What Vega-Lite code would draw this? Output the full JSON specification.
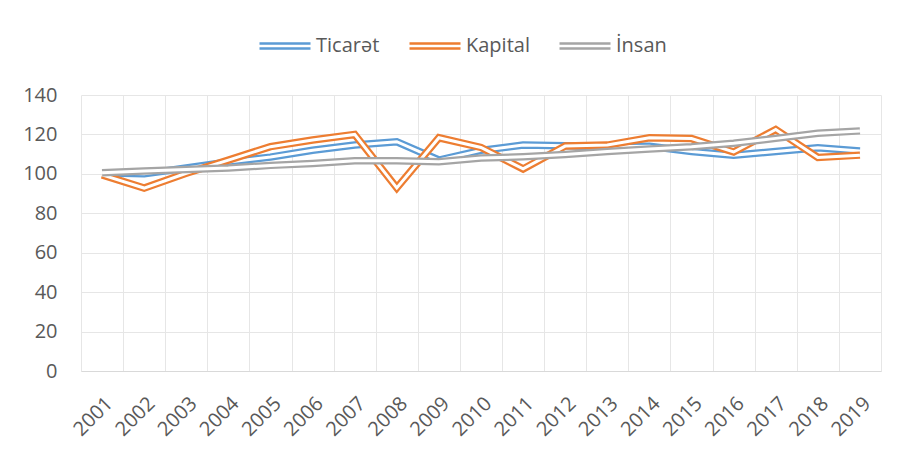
{
  "$schema": "https://vega.github.io/schema/vega-lite/v6.json",
  "width": 800,
  "height": 276,
  "autosize": {"type": "none"},
  "padding": {"left": 81, "top": 95, "right": 31, "bottom": 84},
  "background": "white",
  "config": {
    "font": "Open Sans",
    "view": {"stroke": null},
    "axis": {"labelColor": "#595959", "labelFontSize": 20, "gridColor": "#e6e6e6", "gridWidth": 1}
  },
  "data": {
    "values": [
      {"year": "2001", "series": "Ticarət", "value": 100.5},
      {"year": "2002", "series": "Ticarət", "value": 100},
      {"year": "2003", "series": "Ticarət", "value": 103},
      {"year": "2004", "series": "Ticarət", "value": 106},
      {"year": "2005", "series": "Ticarət", "value": 108.5},
      {"year": "2006", "series": "Ticarət", "value": 112},
      {"year": "2007", "series": "Ticarət", "value": 114.6},
      {"year": "2008", "series": "Ticarət", "value": 116.3},
      {"year": "2009", "series": "Ticarət", "value": 107},
      {"year": "2010", "series": "Ticarət", "value": 111.9},
      {"year": "2011", "series": "Ticarət", "value": 114.6},
      {"year": "2012", "series": "Ticarət", "value": 114.2},
      {"year": "2013", "series": "Ticarət", "value": 113.8},
      {"year": "2014", "series": "Ticarət", "value": 114},
      {"year": "2015", "series": "Ticarət", "value": 111.3},
      {"year": "2016", "series": "Ticarət", "value": 109.5},
      {"year": "2017", "series": "Ticarət", "value": 111.3},
      {"year": "2018", "series": "Ticarət", "value": 113.2},
      {"year": "2019", "series": "Ticarət", "value": 111.6},
      {"year": "2001", "series": "Kapital", "value": 99.5},
      {"year": "2002", "series": "Kapital", "value": 92.8},
      {"year": "2003", "series": "Kapital", "value": 100.3},
      {"year": "2004", "series": "Kapital", "value": 107},
      {"year": "2005", "series": "Kapital", "value": 113.8},
      {"year": "2006", "series": "Kapital", "value": 117.2},
      {"year": "2007", "series": "Kapital", "value": 120},
      {"year": "2008", "series": "Kapital", "value": 92.9},
      {"year": "2009", "series": "Kapital", "value": 118.3},
      {"year": "2010", "series": "Kapital", "value": 113.4},
      {"year": "2011", "series": "Kapital", "value": 102.5},
      {"year": "2012", "series": "Kapital", "value": 114.1},
      {"year": "2013", "series": "Kapital", "value": 114.6},
      {"year": "2014", "series": "Kapital", "value": 118.3},
      {"year": "2015", "series": "Kapital", "value": 117.9},
      {"year": "2016", "series": "Kapital", "value": 111.1},
      {"year": "2017", "series": "Kapital", "value": 122.5},
      {"year": "2018", "series": "Kapital", "value": 108.3},
      {"year": "2019", "series": "Kapital", "value": 109.5},
      {"year": "2001", "series": "İnsan", "value": 100.6},
      {"year": "2002", "series": "İnsan", "value": 101.5},
      {"year": "2003", "series": "İnsan", "value": 102.2},
      {"year": "2004", "series": "İnsan", "value": 103},
      {"year": "2005", "series": "İnsan", "value": 104.3},
      {"year": "2006", "series": "İnsan", "value": 105.3},
      {"year": "2007", "series": "İnsan", "value": 106.7},
      {"year": "2008", "series": "İnsan", "value": 106.7},
      {"year": "2009", "series": "İnsan", "value": 106.2},
      {"year": "2010", "series": "İnsan", "value": 108},
      {"year": "2011", "series": "İnsan", "value": 108.7},
      {"year": "2012", "series": "İnsan", "value": 109.8},
      {"year": "2013", "series": "İnsan", "value": 111.3},
      {"year": "2014", "series": "İnsan", "value": 112.6},
      {"year": "2015", "series": "İnsan", "value": 113.8},
      {"year": "2016", "series": "İnsan", "value": 115.5},
      {"year": "2017", "series": "İnsan", "value": 118},
      {"year": "2018", "series": "İnsan", "value": 120.6},
      {"year": "2019", "series": "İnsan", "value": 121.8}
    ]
  },
  "encoding": {
    "x": {
      "field": "year", "type": "ordinal", "bandPosition": 0.5,
      "scale": {"type": "band", "paddingInner": 0, "paddingOuter": 0},
      "axis": {"title": null, "labelAngle": -45, "labelPadding": 22, "ticks": false, "tickSize": 0, "tickBand": "extent", "grid": true, "domainColor": "#d9d9d9", "domainWidth": 1}
    },
    "y": {
      "field": "value", "type": "quantitative",
      "scale": {"domain": [0, 140], "nice": false},
      "axis": {"title": null, "values": [0, 20, 40, 60, 80, 100, 120, 140], "domain": false, "ticks": false, "tickSize": 0, "labelPadding": 24, "grid": true}
    }
  },
  "layer": [
    {
      "transform": [{"filter": "datum.series === 'Ticarət'"}],
      "mark": {"type": "line", "strokeWidth": 7.5, "strokeJoin": "miter"},
      "encoding": {
        "color": {
          "field": "series", "type": "nominal",
          "scale": {"domain": ["Ticarət", "Kapital", "İnsan"], "range": ["#5B9BD5", "#ED7D31", "#A5A5A5"]},
          "legend": {
            "title": null, "orient": "none", "direction": "horizontal",
            "legendX": 177, "legendY": -76, "padding": 0,
            "labelFontSize": 20, "labelColor": "#595959", "labelOffset": 4, "columnPadding": 24,
            "symbolType": "M-1,-0.1H1M-1,0.1H1", "symbolSize": 2601, "symbolStrokeWidth": 2.5
          }
        }
      }
    },
    {
      "transform": [{"filter": "datum.series === 'Ticarət'"}],
      "mark": {"type": "line", "strokeWidth": 3, "strokeJoin": "miter", "color": "white"}
    },
    {
      "transform": [{"filter": "datum.series === 'Kapital'"}],
      "mark": {"type": "line", "strokeWidth": 7.5, "strokeJoin": "miter"},
      "encoding": {"color": {"field": "series", "type": "nominal"}}
    },
    {
      "transform": [{"filter": "datum.series === 'Kapital'"}],
      "mark": {"type": "line", "strokeWidth": 3, "strokeJoin": "miter", "color": "white"}
    },
    {
      "transform": [{"filter": "datum.series === 'İnsan'"}],
      "mark": {"type": "line", "strokeWidth": 7.5, "strokeJoin": "miter"},
      "encoding": {"color": {"field": "series", "type": "nominal"}}
    },
    {
      "transform": [{"filter": "datum.series === 'İnsan'"}],
      "mark": {"type": "line", "strokeWidth": 3, "strokeJoin": "miter", "color": "white"}
    }
  ]
}
